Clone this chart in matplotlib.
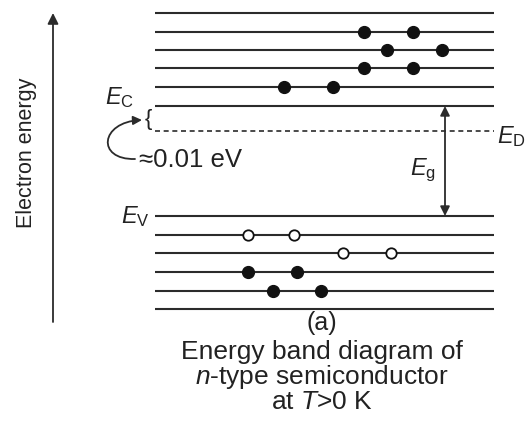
import matplotlib
matplotlib.use("Agg")
import matplotlib.pyplot as plt
from matplotlib.patches import FancyArrowPatch
from matplotlib.path import Path

plt.rcParams['font.family'] = ['Liberation Sans', 'DejaVu Sans']
plt.rcParams['mathtext.fontset'] = 'custom'
plt.rcParams['mathtext.rm'] = 'Liberation Sans'
plt.rcParams['mathtext.it'] = 'Liberation Sans:italic'

# level heights (pixel rows, top = 0)
conduction_levels = [13, 32, 50, 68, 87, 106]
valence_levels = [216, 235, 253, 272, 291, 309]
donor_level = 131

# electrons in the conduction band: (x, level)
electrons_cb_x = [364, 413, 387, 442, 364, 413, 284, 333]
electrons_cb_y = [32, 32, 50, 50, 68, 68, 87, 87]
# holes in the valence band
holes_x = [248, 294, 343, 391]
holes_y = [235, 235, 253, 253]
# electrons remaining in valence band
electrons_vb_x = [248, 297, 273, 321]
electrons_vb_y = [272, 272, 291, 291]

line_x0, line_x1 = 155, 494
dark = '#2b2b2b'
txt = '#222222'

fig = plt.figure(figsize=(5.32, 4.37), dpi=100)
ax = fig.add_axes([0, 0, 1, 1])
ax.set_xlim(0, 532)
ax.set_ylim(437, 0)
ax.axis('off')

for y in conduction_levels + valence_levels:
    ax.plot([line_x0, line_x1], [y, y], color=dark, lw=1.5, solid_capstyle='butt')
ax.plot([line_x0, line_x1], [donor_level, donor_level], color=dark, lw=1.2,
        dashes=(3, 2.2))

ax.plot(electrons_cb_x, electrons_cb_y, 'o', ms=8.5, color='#111111', ls='none')
ax.plot(electrons_vb_x, electrons_vb_y, 'o', ms=8.5, color='#111111', ls='none')
ax.plot(holes_x, holes_y, 'o', ms=7.5, mfc='white', mec='#111111', mew=1.3, ls='none')

# electron energy axis
ax.annotate('', xy=(53, 13), xytext=(53, 322),
            arrowprops=dict(arrowstyle='-|>', color=dark, lw=1.3,
                            mutation_scale=16, shrinkA=0, shrinkB=0))
ax.text(27, 153, 'Electron energy', rotation=90, ha='center', va='center',
        fontsize=15.5, color=txt)

# band gap arrow
ax.annotate('', xy=(445, conduction_levels[-1]), xytext=(445, valence_levels[0]),
            arrowprops=dict(arrowstyle='<|-|>', color=dark, lw=1.3,
                            mutation_scale=14, shrinkA=0, shrinkB=0))
ax.text(423, 170, r'$E_{\mathrm{g}}$', ha='center', va='center', fontsize=17, color=txt)
ax.text(497, 137, r'$E_{\mathrm{D}}$', ha='left', va='center', fontsize=17, color=txt)
ax.text(120, 98, r'$E_{\mathrm{C}}$', ha='center', va='center', fontsize=17, color=txt)
ax.text(135, 217, r'$E_{\mathrm{V}}$', ha='center', va='center', fontsize=17, color=txt)

# brace and curved arrow
ax.text(148, 119, '{', ha='center', va='center', fontsize=16, color=txt)
curve = Path([(135, 159), (96, 160), (100, 122), (142, 120)],
             [Path.MOVETO, Path.CURVE4, Path.CURVE4, Path.CURVE4])
arc = FancyArrowPatch(path=curve, arrowstyle='-|>', mutation_scale=13,
                      color=dark, lw=1.3)
ax.add_patch(arc)
ax.text(139, 160, '\u22480.01 eV', ha='left', va='center', fontsize=18.5, color=txt)

# caption
ax.text(322, 323, '(a)', ha='center', va='center', fontsize=18, color=txt)
ax.text(322, 352, 'Energy band diagram of', ha='center', va='center', fontsize=19, color=txt)
ax.text(322, 377, '$n$-type semiconductor', ha='center', va='center', fontsize=19, color=txt)
ax.text(322, 402, 'at $T$>0 K', ha='center', va='center', fontsize=19, color=txt)

fig.savefig('out.png', dpi=100)
